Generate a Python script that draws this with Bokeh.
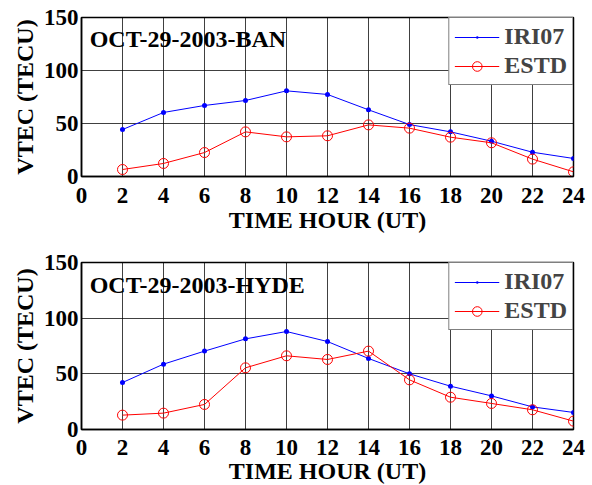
from bokeh.plotting import figure
from bokeh.layouts import column
from bokeh.models import Range1d, FixedTicker, Label, Legend, LegendItem
from bokeh.embed import file_html
from bokeh.resources import INLINE

hours = [2, 4, 6, 8, 10, 12, 14, 16, 18, 20, 22, 24]
ban_iri07 = [44.3, 60.4, 67.0, 71.7, 80.8, 77.4, 62.9, 49.0, 42.1, 33.3, 22.9, 17.0]
ban_estd = [6.6, 12.3, 22.6, 42.1, 37.4, 38.4, 48.7, 45.6, 37.1, 31.8, 16.4, 4.4]
hyde_iri07 = [42.2, 58.7, 70.4, 81.4, 88.0, 79.0, 63.8, 50.0, 38.9, 30.2, 20.3, 15.3]
hyde_estd = [12.9, 14.7, 22.5, 55.4, 66.2, 62.9, 70.4, 44.6, 29.0, 23.4, 17.7, 7.5]
x_ticks = list(range(0, 25, 2))
y_ticks = [0, 50, 100, 150]
titles = ["OCT-29-2003-BAN", "OCT-29-2003-HYDE"]
series_names = ["IRI07", "ESTD"]

FONT = "Liberation Serif"


def make_panel(title, iri, estd, frame_h, top, bottom, tick_standoff, label_standoff):
    p = figure(frame_width=492, frame_height=frame_h, output_backend="svg", toolbar_location=None,
               x_range=Range1d(0, 24), y_range=Range1d(0, 150),
               min_border_left=81, min_border_right=19,
               min_border_top=top, min_border_bottom=bottom)
    p.outline_line_color = "black"
    p.outline_line_width = 1.5
    for ax in (p.xaxis, p.yaxis):
        ax.major_label_text_font = FONT
        ax.major_label_text_font_style = "bold"
        ax.major_label_text_font_size = "23px"
        ax.major_label_text_color = "black"
        ax.axis_label_text_font = FONT
        ax.axis_label_text_font_style = "bold"
        ax.axis_label_text_font_size = "24px"
        ax.axis_label_text_color = "black"
        ax.major_tick_in = 0
        ax.major_tick_out = 0
        ax.minor_tick_in = 0
        ax.minor_tick_out = 0
        ax.axis_line_color = "black"
        ax.axis_line_width = 1.5
    p.xaxis.ticker = FixedTicker(ticks=x_ticks)
    p.yaxis.ticker = FixedTicker(ticks=y_ticks)
    p.xaxis.axis_label = "TIME HOUR (UT)"
    p.yaxis.axis_label = "VTEC (TECU)"
    p.xaxis.major_label_standoff = tick_standoff
    p.xaxis.axis_label_standoff = label_standoff
    p.yaxis.major_label_standoff = 3
    p.yaxis.axis_label_standoff = 3
    p.xgrid.ticker = FixedTicker(ticks=x_ticks)
    p.ygrid.ticker = FixedTicker(ticks=y_ticks)
    for g in (p.xgrid, p.ygrid):
        g.grid_line_color = "black"
        g.grid_line_alpha = 0.75
        g.grid_line_width = 1

    r1 = p.line(hours, iri, line_color="blue", line_width=1)
    r1b = p.scatter(hours, iri, marker="dot", size=20, fill_color="blue", line_color="blue")
    r2 = p.line(hours, estd, line_color="red", line_width=1)
    r2b = p.scatter(hours, estd, marker="circle", size=10, fill_color=None, line_color="red", line_width=1)

    legend = Legend(items=[LegendItem(label=series_names[0], renderers=[r1, r1b]),
                           LegendItem(label=series_names[1], renderers=[r2, r2b])],
                    location="top_right", margin=0, padding=5, spacing=2,
                    glyph_width=45, glyph_height=24, label_height=24,
                    label_text_font=FONT, label_text_font_style="bold",
                    label_text_font_size="24px", label_standoff=5,
                    border_line_color="black", border_line_width=1.5,
                    background_fill_color="white", background_fill_alpha=1)
    p.add_layout(legend, "center")

    p.add_layout(Label(x=0.4, y=130, text=title, text_font=FONT, text_font_style="bold",
                       text_font_size="24px", text_baseline="middle", text_color="black"))
    return p


p1 = make_panel(titles[0], ban_iri07, ban_estd, 159, 17, 67, 11, 1)
p2 = make_panel(titles[1], hyde_iri07, hyde_estd, 167, 19, 56, 10, 0)
layout = column(p1, p2, spacing=0)

open("out.html", "w").write(file_html(layout, INLINE))
